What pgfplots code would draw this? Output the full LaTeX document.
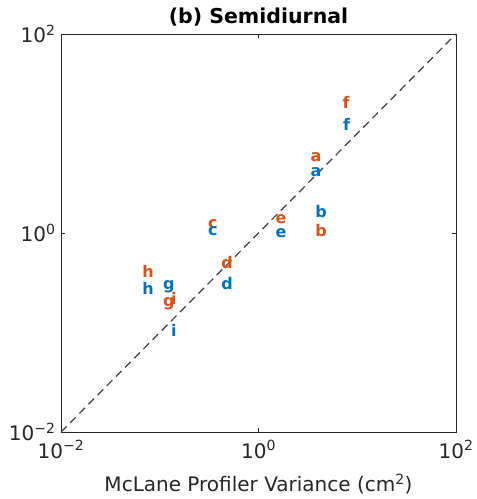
\documentclass[border=0pt]{standalone}
\usepackage{pgfplots}
\pgfplotsset{compat=1.18}
\usepackage{fontspec}
\setmainfont{DejaVu Sans}
\definecolor{morange}{RGB}{217,83,25}
\definecolor{mblue}{RGB}{0,114,189}
\definecolor{mgray}{RGB}{38,38,38}
\begin{document}
\begin{tikzpicture}
\begin{axis}[
  name=ax,
  xmode=log, ymode=log,
  scale only axis, width=395pt, height=398pt,
  xmin=0.01, xmax=100, ymin=0.01, ymax=100,
  xtick={0.01,1,100}, ytick={0.01,1,100},
  xticklabels={10\textsuperscript{−2},10\textsuperscript{0},10\textsuperscript{2}},
  yticklabels={10\textsuperscript{−2},10\textsuperscript{0},10\textsuperscript{2}},
  minor tick num=0,
  tick align=inside, major tick length=4pt,
  ticklabel style={font=\fontsize{20}{22}\selectfont, text=mgray},
  xticklabel style={yshift=-5pt},
  yticklabel style={xshift=-2pt},
  title={\textbf{(b) Semidiurnal}},
  title style={font=\fontsize{20.5}{22}\selectfont, text=black, at={(axis description cs:0.5,1)}, anchor=center, yshift=11pt},
  xlabel={McLane Profiler Variance (cm\textsuperscript{2})},
  xlabel style={font=\fontsize{20}{22}\selectfont, text=mgray, at={(axis description cs:0.5,0)}, anchor=center, yshift=-52pt},
  axis line style={mgray},
  every tick/.style={mgray},
]
\addplot[black!75, line width=1.2pt, dash pattern=on 8pt off 5pt] coordinates {(0.01,0.01) (100,100)};
\addplot[only marks, mark=none, nodes near coords, point meta=explicit symbolic,
  every node near coord/.style={anchor=center, text=morange, font=\fontsize{16}{16}\selectfont\bfseries}]
  table[meta=label] {
x y label
7.7 20.3 f
3.82 5.8 a
4.3 1.07 b
1.69 1.38 e
0.346 1.23 c
0.48 0.50 d
0.076 0.415 h
0.124 0.193 g
0.139 0.222 i
};
\addplot[only marks, mark=none, nodes near coords, point meta=explicit symbolic,
  every node near coord/.style={anchor=center, text=mblue, font=\fontsize{16}{16}\selectfont\bfseries}]
  table[meta=label] {
x y label
7.8 12.4 f
3.82 4.1 a
4.3 1.63 b
1.69 1.0 e
0.346 1.05 c
0.48 0.314 d
0.076 0.28 h
0.124 0.286 g
0.139 0.106 i
};
\end{axis}
\path (ax.south west) ++(-61pt,-67pt) coordinate (bbA);
\path (ax.north east) ++(19pt,34pt) coordinate (bbB);
\path (bbA) rectangle (bbB);
\end{tikzpicture}
\end{document}
